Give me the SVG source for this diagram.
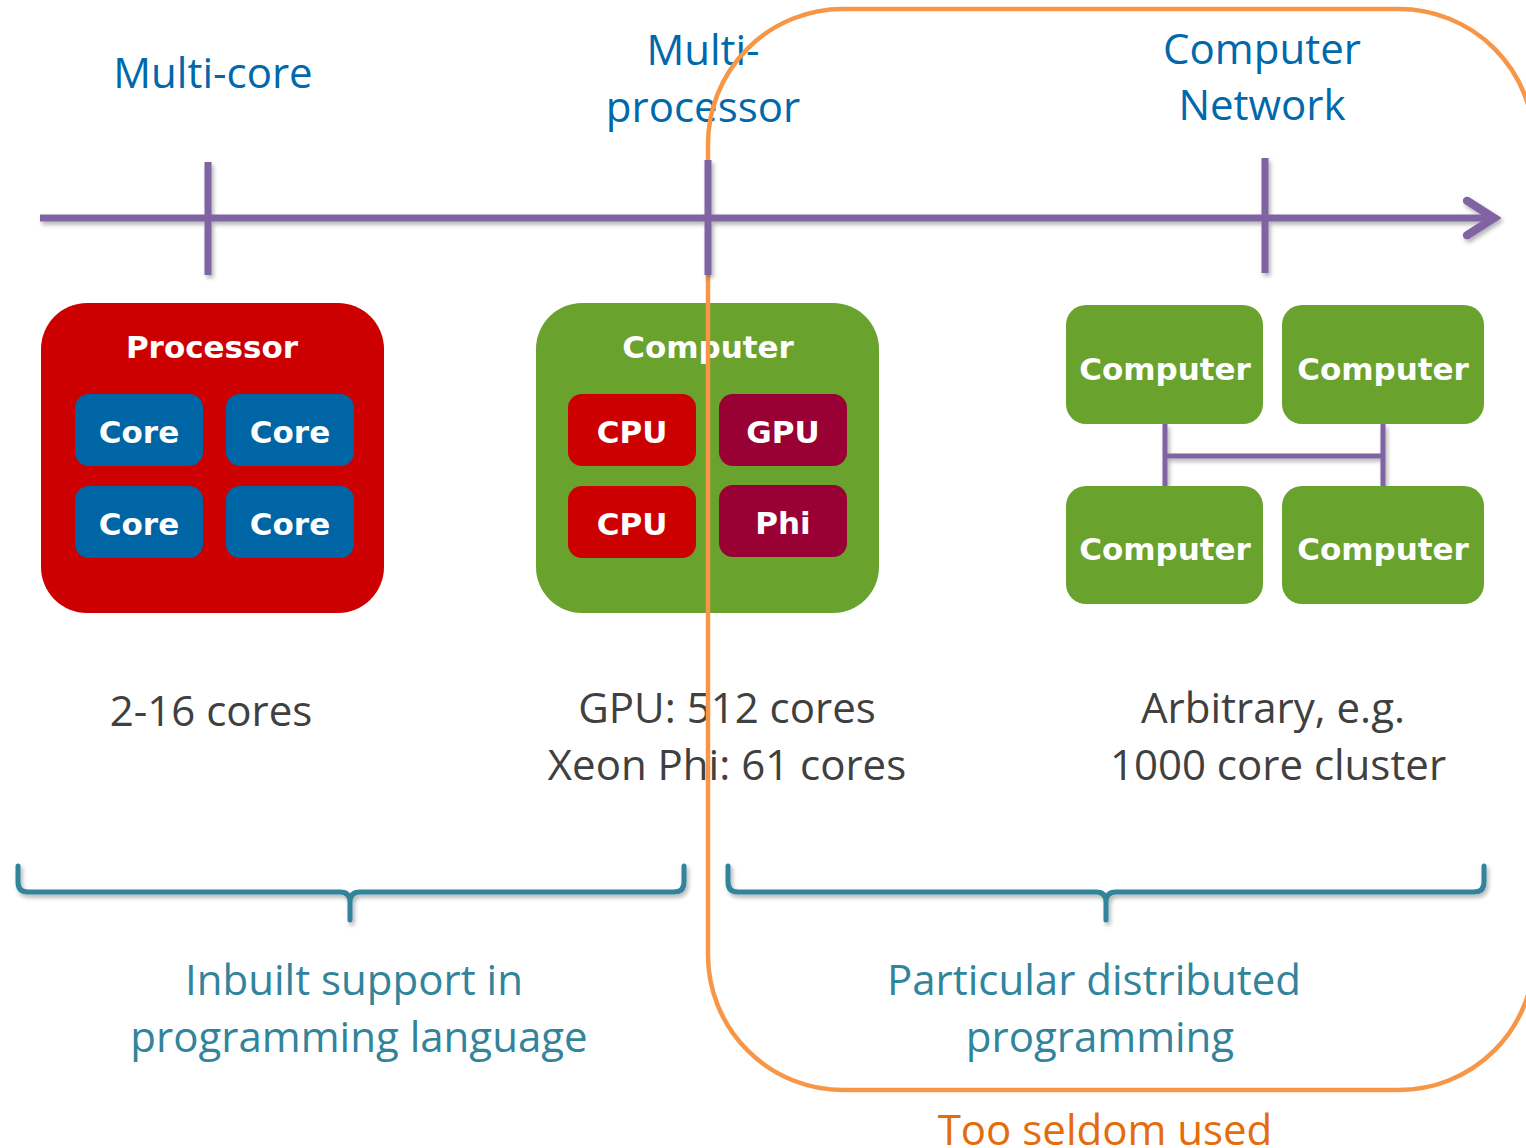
<svg xmlns="http://www.w3.org/2000/svg" width="1526" height="1148" viewBox="0 0 1526 1148">
  <defs>
    <filter id="shadow" x="-5%" y="-20%" width="110%" height="160%">
      <feDropShadow dx="2" dy="3" stdDeviation="2" flood-color="#000" flood-opacity="0.3"/>
    </filter>
    <marker id="chevron" viewBox="0 0 20 20" refX="17" refY="10" markerWidth="7" markerHeight="7" markerUnits="strokeWidth" orient="auto">
      <path d="M6,3 L17,10 L6,17" fill="none" stroke="#8064A2" stroke-width="3.4" stroke-linecap="round" stroke-linejoin="miter"/>
    </marker>
    <style>
      .heading { font-family: "Open Sans", "Liberation Sans", sans-serif; font-size: 42px; fill: #0068AB; text-anchor: middle; }
      .note { font-family: "Open Sans", "Liberation Sans", sans-serif; font-size: 42px; fill: #404040; text-anchor: middle; }
      .scope { font-family: "Open Sans", "Liberation Sans", sans-serif; font-size: 42px; fill: #31849B; text-anchor: middle; }
      .warn { font-family: "Open Sans", "Liberation Sans", sans-serif; font-size: 42px; fill: #E46C0A; text-anchor: middle; }
      .label { font-family: "DejaVu Sans", Verdana, sans-serif; font-weight: bold; font-size: 31px; fill: #FFFFFF; text-anchor: middle; }
      .axis { stroke: #8064A2; stroke-width: 7; fill: none; }
      .link { stroke: #8064A2; stroke-width: 5; fill: none; }
      .brace { stroke: #31849B; stroke-width: 5; fill: none; stroke-linecap: round; }
      .red { fill: #CC0000; }
      .green { fill: #6AA22E; }
      .blue { fill: #0065A4; }
      .wine { fill: #990033; }
    </style>
  </defs>

  <!-- Timeline headings -->
  <g id="headings">
    <text class="heading" x="213" y="88">Multi-core</text>
    <text class="heading" x="703" y="65">Multi-</text>
    <text class="heading" x="703" y="122">processor</text>
    <text class="heading" x="1262" y="64">Computer</text>
    <text class="heading" x="1262" y="120">Network</text>
  </g>

  <!-- Multi-core: processor with four cores -->
  <g id="processor">
    <rect class="red" x="41" y="303" width="343" height="310" rx="46"/>
    <text class="label" x="212" y="358">Processor</text>
    <rect class="blue" x="75" y="394" width="128" height="72" rx="14"/>
    <text class="label" x="139" y="443">Core</text>
    <rect class="blue" x="226" y="394" width="128" height="72" rx="14"/>
    <text class="label" x="290" y="443">Core</text>
    <rect class="blue" x="75" y="486" width="128" height="72" rx="14"/>
    <text class="label" x="139" y="535">Core</text>
    <rect class="blue" x="226" y="486" width="128" height="72" rx="14"/>
    <text class="label" x="290" y="535">Core</text>
  </g>

  <!-- Multi-processor: computer with CPUs and accelerators -->
  <g id="computer">
    <rect class="green" x="536" y="303" width="343" height="310" rx="46"/>
    <text class="label" x="708" y="358">Computer</text>
    <rect class="red" x="568" y="394" width="128" height="72" rx="14"/>
    <text class="label" x="632" y="443">CPU</text>
    <rect class="wine" x="719" y="394" width="128" height="72" rx="14"/>
    <text class="label" x="783" y="443">GPU</text>
    <rect class="red" x="568" y="486" width="128" height="72" rx="14"/>
    <text class="label" x="632" y="535">CPU</text>
    <rect class="wine" x="719" y="485" width="128" height="72" rx="14"/>
    <text class="label" x="783" y="534">Phi</text>
  </g>

  <!-- Computer network links -->
  <g id="connectors" filter="url(#shadow)">
    <path class="link" d="M1165,424 V486 M1383,424 V486 M1165,456 H1383"/>
  </g>

  <!-- Computer network: four machines -->
  <g id="network">
    <g id="node-tl">
      <rect class="green" x="1066" y="305" width="197" height="119" rx="20"/>
      <text class="label" x="1165" y="380">Computer</text>
    </g>
    <g id="node-tr">
      <rect class="green" x="1282" y="305" width="202" height="119" rx="20"/>
      <text class="label" x="1383" y="380">Computer</text>
    </g>
    <g id="node-bl">
      <rect class="green" x="1066" y="486" width="197" height="118" rx="20"/>
      <text class="label" x="1165" y="560">Computer</text>
    </g>
    <g id="node-br">
      <rect class="green" x="1282" y="486" width="202" height="118" rx="20"/>
      <text class="label" x="1383" y="560">Computer</text>
    </g>
  </g>

  <!-- Core counts -->
  <g id="counts">
    <text class="note" x="211" y="726">2-16 cores</text>
    <text class="note" x="727" y="723">GPU: 512 cores</text>
    <text class="note" x="727" y="780">Xeon Phi: 61 cores</text>
    <text class="note" x="1273" y="723">Arbitrary, e.g.</text>
    <text class="note" x="1278" y="780">1000 core cluster</text>
  </g>

  <!-- Braces grouping the approaches -->
  <g id="braces" filter="url(#shadow)">
    <path class="brace" d="M18,866 V882 Q18,892 28,892 H340 Q350,892 350,902 V920 M350,902 Q350,892 360,892 H674 Q684,892 684,882 V866"/>
    <path class="brace" d="M728,866 V882 Q728,892 738,892 H1096 Q1106,892 1106,902 V920 M1106,902 Q1106,892 1116,892 H1474 Q1484,892 1484,882 V866"/>
  </g>

  <g id="scope-labels">
    <text class="scope" x="354" y="995">Inbuilt support in</text>
    <text class="scope" x="359" y="1052">programming language</text>
    <text class="scope" x="1094" y="995">Particular distributed</text>
    <text class="scope" x="1100" y="1052">programming</text>
  </g>

  <!-- Highlight around distributed approaches -->
  <g id="highlight">
    <rect x="708" y="9" width="826" height="1081" rx="135" ry="135" fill="none" stroke="#F79646" stroke-width="4.5"/>
    <text class="warn" x="1105" y="1145">Too seldom used</text>
  </g>

  <!-- Timeline axis with ticks -->
  <g id="timeline" filter="url(#shadow)">
    <path class="axis" d="M40,218 H1494" marker-end="url(#chevron)"/>
    <path class="axis" d="M208,162 V275 M708,160 V275 M1265,158 V273"/>
  </g>
</svg>
